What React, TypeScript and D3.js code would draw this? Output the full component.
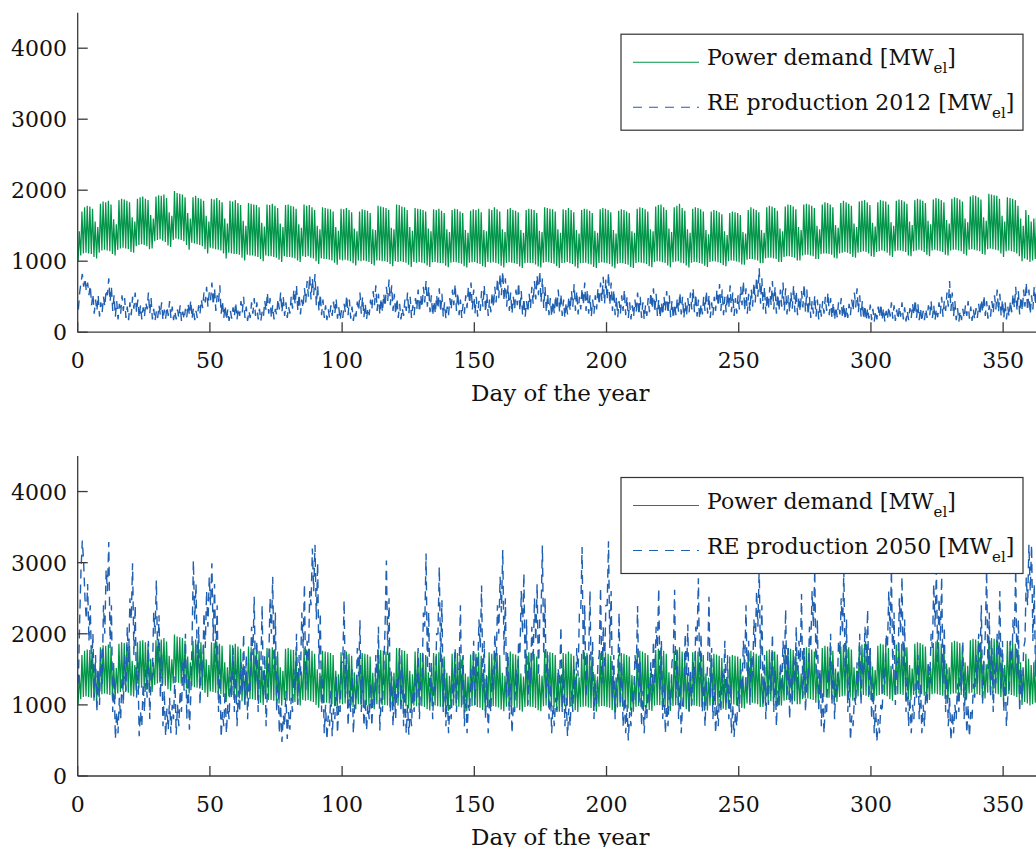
import React from 'react';
import * as d3 from 'd3';

// Axis ticks
const dayTicks = [0, 50, 100, 150, 200, 250, 300, 350];
const mwTicks = [0, 1000, 2000, 3000, 4000];

// Daily maximum of the electric power demand [MW_el], one value per day (day 0 = Sunday)
const demandPeak = [
  1420, 1700, 1760, 1780, 1770, 1740, 1560,
  1480, 1810, 1840, 1830, 1850, 1800, 1590,
  1520, 1860, 1880, 1870, 1850, 1830, 1620,
  1560, 1880, 1900, 1910, 1880, 1860, 1650,
  1600, 1910, 1930, 1920, 1940, 1890, 1690,
  1640, 1990, 1960, 1950, 1940, 1900, 1680,
  1600, 1900, 1920, 1890, 1880, 1850, 1640,
  1560, 1880, 1870, 1890, 1860, 1830, 1600,
  1530, 1850, 1840, 1860, 1820, 1790, 1570,
  1500, 1820, 1810, 1800, 1790, 1760, 1540,
  1490, 1800, 1790, 1810, 1780, 1750, 1530,
  1480, 1790, 1800, 1780, 1770, 1740, 1520,
  1470, 1800, 1780, 1790, 1760, 1720, 1500,
  1450, 1760, 1750, 1740, 1730, 1700, 1480,
  1430, 1740, 1730, 1750, 1720, 1690, 1460,
  1420, 1700, 1730, 1720, 1710, 1680, 1450,
  1440, 1780, 1770, 1760, 1750, 1720, 1470,
  1450, 1800, 1790, 1770, 1760, 1720, 1480,
  1430, 1750, 1740, 1730, 1720, 1700, 1460,
  1420, 1730, 1720, 1740, 1710, 1680, 1450,
  1410, 1720, 1740, 1730, 1700, 1680, 1440,
  1400, 1710, 1730, 1720, 1740, 1690, 1440,
  1420, 1740, 1720, 1760, 1730, 1700, 1450,
  1410, 1730, 1750, 1720, 1710, 1690, 1440,
  1400, 1720, 1740, 1730, 1720, 1680, 1430,
  1410, 1760, 1750, 1740, 1730, 1700, 1450,
  1400, 1730, 1720, 1750, 1720, 1690, 1440,
  1390, 1720, 1740, 1730, 1710, 1680, 1430,
  1400, 1730, 1750, 1740, 1720, 1690, 1440,
  1390, 1710, 1730, 1720, 1700, 1680, 1420,
  1400, 1740, 1760, 1750, 1730, 1700, 1450,
  1420, 1770, 1790, 1800, 1760, 1720, 1460,
  1410, 1760, 1780, 1810, 1750, 1710, 1450,
  1400, 1740, 1760, 1750, 1730, 1700, 1440,
  1380, 1700, 1720, 1710, 1690, 1660, 1420,
  1370, 1680, 1700, 1690, 1680, 1650, 1410,
  1390, 1720, 1760, 1740, 1720, 1690, 1440,
  1400, 1760, 1780, 1770, 1750, 1710, 1460,
  1420, 1770, 1800, 1790, 1770, 1730, 1480,
  1440, 1800, 1810, 1800, 1780, 1750, 1500,
  1450, 1800, 1830, 1820, 1800, 1760, 1510,
  1470, 1820, 1850, 1830, 1810, 1780, 1530,
  1480, 1840, 1850, 1860, 1830, 1790, 1540,
  1490, 1830, 1860, 1850, 1840, 1800, 1550,
  1500, 1850, 1870, 1860, 1840, 1810, 1560,
  1510, 1860, 1880, 1870, 1850, 1820, 1570,
  1520, 1870, 1890, 1880, 1860, 1830, 1580,
  1530, 1880, 1900, 1890, 1870, 1840, 1600,
  1550, 1910, 1930, 1920, 1900, 1870, 1620,
  1570, 1950, 1940, 1930, 1920, 1880, 1640,
  1560, 1900, 1890, 1880, 1860, 1780, 1600,
  1500, 1720, 1650, 1560, 1600, 1620, 1500,
  1480,
];

// Daily minimum of the electric power demand [MW_el]
const demandTrough = [
  1000, 1080, 1110, 1120, 1110, 1100, 1060,
  1040, 1120, 1150, 1160, 1150, 1140, 1100,
  1080, 1160, 1180, 1190, 1180, 1170, 1130,
  1120, 1210, 1230, 1240, 1230, 1210, 1170,
  1180, 1280, 1300, 1310, 1290, 1270, 1220,
  1200, 1300, 1320, 1310, 1300, 1280, 1230,
  1160, 1260, 1250, 1240, 1230, 1210, 1170,
  1110, 1190, 1180, 1170, 1160, 1150, 1110,
  1040, 1120, 1110, 1100, 1100, 1090, 1050,
  1010, 1090, 1080, 1080, 1070, 1060, 1030,
  1000, 1080, 1070, 1070, 1060, 1050, 1020,
  990, 1070, 1060, 1060, 1050, 1040, 1010,
  990, 1070, 1060, 1070, 1050, 1040, 1000,
  960, 1040, 1030, 1030, 1020, 1010, 980,
  950, 1020, 1010, 1020, 1010, 1000, 970,
  940, 1010, 1000, 1010, 1000, 990, 960,
  940, 1010, 1010, 1000, 1000, 990, 960,
  930, 1000, 990, 1000, 990, 980, 950,
  920, 990, 980, 990, 980, 970, 940,
  920, 985, 990, 980, 975, 970, 935,
  915, 980, 990, 985, 975, 965, 930,
  910, 980, 985, 990, 970, 960, 930,
  915, 990, 980, 985, 975, 965, 935,
  910, 975, 985, 980, 970, 960, 925,
  905, 970, 980, 975, 970, 955, 925,
  910, 980, 990, 985, 975, 965, 930,
  905, 975, 980, 990, 970, 960, 925,
  900, 970, 975, 980, 965, 955, 920,
  905, 975, 985, 980, 970, 960, 925,
  900, 965, 975, 970, 960, 950, 920,
  905, 975, 985, 980, 970, 960, 930,
  915, 990, 1000, 995, 985, 975, 940,
  915, 985, 995, 1000, 980, 970, 940,
  910, 980, 990, 985, 975, 965, 935,
  920, 990, 1000, 995, 985, 975, 945,
  930, 1000, 1010, 1005, 995, 985, 955,
  950, 1020, 1030, 1030, 1020, 1010, 970,
  970, 1040, 1050, 1050, 1040, 1030, 990,
  990, 1060, 1070, 1070, 1060, 1050, 1010,
  1010, 1080, 1090, 1090, 1080, 1070, 1030,
  1030, 1100, 1110, 1110, 1100, 1090, 1050,
  1040, 1110, 1120, 1130, 1120, 1100, 1060,
  1050, 1120, 1130, 1140, 1130, 1110, 1070,
  1060, 1130, 1140, 1150, 1140, 1120, 1080,
  1060, 1140, 1150, 1150, 1140, 1130, 1080,
  1070, 1140, 1150, 1160, 1150, 1130, 1090,
  1070, 1150, 1160, 1150, 1140, 1130, 1090,
  1080, 1150, 1160, 1160, 1150, 1140, 1100,
  1080, 1160, 1170, 1160, 1150, 1140, 1100,
  1090, 1170, 1180, 1170, 1160, 1150, 1110,
  1060, 1140, 1150, 1140, 1130, 1110, 1070,
  1000, 1040, 1020, 990, 1010, 1030, 1000,
  990,
];

// Renewable electricity production 2012 [MW_el], two values per day (morning, evening)
const re2012 = [
  320, 560, 700, 820, 640, 760, 580, 700, 520, 660, 380, 540, 260, 460, 300, 520, 220, 420, 280, 500,
  360, 600, 520, 760, 430, 640, 300, 520, 220, 440, 180, 400, 260, 520, 300, 480, 200, 360, 170, 420,
  240, 500, 330, 560, 280, 460, 200, 380, 180, 350, 220, 420, 320, 560, 260, 480, 180, 330, 160, 300,
  200, 380, 240, 420, 170, 320, 190, 360, 230, 440, 200, 360, 170, 300, 180, 320, 200, 380, 160, 290,
  180, 330, 210, 400, 240, 450, 190, 340, 170, 300, 200, 380, 260, 460, 340, 560, 420, 640, 360, 560,
  450, 700, 380, 620, 300, 520, 420, 660, 260, 440, 200, 380, 170, 320, 160, 300, 190, 350, 220, 420,
  180, 340, 230, 440, 280, 500, 200, 360, 160, 300, 200, 420, 260, 480, 230, 420, 180, 330, 160, 290,
  220, 440, 300, 560, 260, 480, 200, 380, 180, 330, 240, 470, 320, 560, 280, 500, 230, 420, 200, 360,
  260, 500, 330, 600, 390, 660, 300, 540, 250, 460, 340, 620, 420, 720, 500, 800, 460, 760, 520, 820,
  380, 660, 300, 540, 240, 460, 200, 380, 170, 320, 200, 380, 230, 430, 260, 470, 190, 350, 170, 310,
  200, 400, 280, 520, 240, 460, 190, 360, 160, 300, 220, 430, 300, 560, 260, 500, 210, 400, 180, 340,
  240, 460, 320, 580, 380, 660, 300, 540, 250, 480, 280, 540, 360, 640, 440, 740, 380, 660, 300, 540,
  250, 480, 200, 400, 180, 340, 230, 460, 300, 560, 260, 500, 200, 380, 240, 480, 320, 600, 280, 520,
  350, 640, 420, 720, 360, 640, 280, 520, 230, 440, 260, 520, 330, 620, 280, 540, 220, 420, 190, 360,
  240, 480, 320, 600, 380, 680, 300, 560, 240, 460, 200, 400, 260, 520, 340, 640, 400, 700, 320, 600,
  260, 500, 220, 440, 300, 580, 360, 660, 280, 540, 230, 460, 280, 560, 350, 640, 420, 760, 480, 820,
  520, 860, 440, 760, 360, 660, 300, 560, 260, 500, 320, 600, 380, 700, 300, 580, 240, 480, 220, 440,
  280, 540, 340, 640, 400, 720, 460, 800, 520, 860, 420, 760, 340, 640, 280, 540, 240, 480, 220, 440,
  260, 520, 320, 600, 280, 540, 230, 460, 200, 420, 250, 500, 300, 580, 360, 680, 300, 580, 250, 500,
  320, 620, 380, 700, 300, 600, 260, 520, 220, 460, 260, 520, 320, 620, 380, 700, 440, 780, 400, 740,
  460, 840, 380, 700, 300, 600, 240, 500, 210, 440, 260, 520, 300, 600, 240, 500, 200, 420, 180, 380,
  220, 460, 280, 560, 240, 500, 200, 420, 180, 380, 230, 480, 280, 560, 330, 620, 280, 540, 230, 460,
  200, 420, 240, 500, 300, 580, 260, 520, 210, 440, 190, 400, 240, 480, 290, 560, 250, 500, 200, 420,
  230, 480, 280, 560, 320, 620, 280, 540, 220, 460, 190, 400, 250, 500, 300, 580, 260, 520, 200, 420,
  240, 500, 300, 600, 360, 680, 300, 600, 240, 500, 280, 560, 340, 660, 280, 560, 230, 480, 260, 520,
  320, 640, 380, 720, 300, 620, 260, 540, 300, 600, 360, 700, 420, 780, 500, 900, 400, 760, 320, 640,
  260, 540, 320, 640, 380, 720, 320, 640, 260, 540, 300, 600, 360, 700, 300, 620, 250, 520, 280, 560,
  330, 660, 280, 580, 240, 500, 290, 580, 350, 680, 290, 600, 240, 500, 200, 440, 260, 520, 220, 460,
  180, 400, 220, 440, 260, 500, 300, 560, 240, 480, 200, 420, 170, 360, 210, 420, 250, 480, 200, 400,
  170, 350, 200, 400, 240, 460, 300, 560, 350, 620, 280, 520, 220, 440, 180, 380, 160, 340, 190, 390,
  170, 330, 150, 300, 180, 360, 210, 400, 170, 340, 150, 300, 180, 360, 220, 420, 190, 380, 160, 320,
  180, 360, 220, 420, 180, 350, 150, 300, 170, 340, 200, 400, 240, 460, 200, 400, 170, 340, 150, 300,
  170, 330, 200, 380, 240, 440, 200, 380, 170, 330, 210, 420, 260, 500, 220, 440, 300, 560, 360, 720,
  300, 560, 220, 440, 170, 340, 150, 300, 170, 330, 200, 380, 230, 440, 190, 360, 160, 320, 180, 340,
  200, 400, 240, 460, 280, 520, 230, 440, 190, 380, 220, 440, 270, 520, 320, 600, 280, 540, 230, 460,
  200, 420, 180, 360, 220, 440, 280, 540, 340, 640, 300, 580, 250, 500, 300, 600, 360, 700, 300, 600,
  250, 520, 320, 640, 380, 720, 320, 640, 280, 560,
];

// Renewable electricity production 2050 scenario [MW_el], two values per day
const re2050 = [
  1300, 2200, 2900, 3310, 3000, 2500, 2200, 2700, 1900, 2400, 1500, 2000, 1100, 1700, 900, 1500, 1000, 1800, 1300, 2400,
  2000, 2900, 2600, 3290, 1800, 2400, 900, 1400, 520, 900, 600, 1100, 800, 1400, 1000, 1700, 1200, 2100, 1600, 2500,
  2200, 2990, 1700, 2400, 1100, 1600, 560, 900, 700, 1300, 900, 1500, 1100, 1900, 800, 1400, 1400, 2300, 2000, 2750,
  1600, 2260, 1100, 1700, 700, 1200, 560, 950, 650, 1100, 600, 1000, 800, 1400, 580, 1000, 700, 1200, 900, 1600,
  1200, 2000, 800, 1400, 650, 1100, 1900, 3030, 2200, 2700, 1500, 2100, 1000, 1600, 1400, 2300, 1800, 2600, 2100, 2800,
  2400, 2990, 1900, 2700, 1600, 2400, 900, 1500, 540, 900, 700, 1200, 600, 1000, 800, 1400, 1100, 1800, 900, 1500,
  700, 1200, 900, 1600, 1200, 2000, 1000, 1700, 800, 1300, 1200, 2100, 1700, 2520, 1300, 1900, 900, 1500, 1500, 2400,
  1100, 1700, 700, 1200, 1600, 2500, 2000, 2800, 1500, 2300, 900, 1400, 600, 1000, 480, 850, 700, 1200, 520, 900,
  650, 1100, 900, 1500, 1200, 2000, 1000, 1700, 1400, 2300, 1800, 2700, 1200, 1900, 1600, 2600, 2400, 3200, 2600, 3250,
  2200, 3000, 1500, 2300, 900, 1400, 600, 1000, 510, 850, 700, 1200, 560, 950, 800, 1400, 600, 1000, 900, 1600,
  1600, 2470, 1100, 1700, 700, 1200, 900, 1500, 600, 1000, 1100, 1800, 1400, 2190, 900, 1400, 700, 1100, 640, 1000,
  800, 1300, 700, 1200, 1000, 1700, 1300, 2100, 640, 1100, 900, 1500, 2100, 3030, 1700, 2500, 900, 1400, 700, 1200,
  800, 1400, 1100, 1800, 900, 1500, 700, 1200, 600, 1000, 580, 950, 700, 1200, 900, 1500, 1100, 1800, 800, 1400,
  1400, 2300, 2100, 3130, 1500, 2300, 1000, 1600, 800, 1300, 1200, 2000, 2000, 2940, 1600, 2470, 900, 1500, 700, 1200,
  600, 1000, 800, 1300, 1100, 1800, 900, 1500, 1500, 2400, 1000, 1700, 700, 1200, 600, 1000, 900, 1500, 1200, 1900,
  1000, 1700, 1400, 2200, 1800, 2680, 1200, 1900, 800, 1400, 600, 1100, 900, 1500, 1200, 2000, 1500, 2400, 2000, 2800,
  2300, 3180, 1700, 2500, 1100, 1700, 800, 1300, 600, 1000, 900, 1500, 1200, 1900, 1700, 2600, 2000, 2850, 1400, 2200,
  1000, 1600, 1300, 2100, 1600, 2500, 1900, 2700, 1400, 2200, 2300, 3240, 1700, 2500, 1100, 1700, 800, 1300, 600, 1000,
  700, 1100, 900, 1500, 1300, 2100, 900, 1500, 700, 1100, 560, 950, 700, 1200, 900, 1500, 1100, 1800, 1400, 2300,
  2300, 3220, 1600, 2400, 1100, 1700, 1700, 2600, 1200, 1900, 800, 1300, 1000, 1600, 1700, 2650, 1300, 2100, 1500, 2400,
  2400, 3300, 1800, 2600, 1100, 1700, 800, 1300, 1400, 2300, 1000, 1600, 700, 1100, 600, 1000, 500, 900, 700, 1200,
  1000, 1700, 1500, 2390, 1000, 1600, 700, 1200, 600, 1000, 800, 1300, 1000, 1600, 1200, 1900, 1300, 2100, 1800, 2640,
  1200, 1900, 800, 1300, 600, 1000, 700, 1200, 1000, 1600, 1700, 2620, 1100, 1800, 800, 1300, 600, 1000, 1200, 2000,
  1400, 2130, 900, 1500, 1000, 1600, 1300, 2100, 1900, 2780, 1300, 2000, 900, 1400, 700, 1200, 1600, 2520, 1100, 1800,
  800, 1300, 600, 1000, 700, 1200, 900, 1500, 1200, 1900, 1000, 1700, 800, 1300, 600, 1000, 550, 900, 700, 1200,
  900, 1500, 1200, 1900, 1500, 2400, 1200, 1900, 1000, 1700, 1400, 2200, 1800, 2600, 2100, 2950, 1500, 2400, 1000, 1700,
  800, 1300, 1000, 1600, 1200, 2000, 900, 1500, 700, 1200, 1000, 1600, 1200, 1900, 1500, 2340, 1100, 1800, 800, 1400,
  1000, 1700, 1300, 2100, 1200, 1900, 1600, 2560, 1100, 1800, 900, 1400, 1300, 2100, 1800, 2600, 2100, 2900, 1400, 2200,
  900, 1500, 700, 1200, 600, 1000, 900, 1500, 1300, 2000, 1000, 1600, 800, 1300, 1200, 1900, 1700, 2500, 2000, 2900,
  1400, 2200, 900, 1400, 500, 850, 700, 1100, 1000, 1600, 1300, 2000, 1000, 1600, 1400, 2100, 1600, 2340, 1100, 1800,
  800, 1300, 600, 1000, 480, 800, 600, 1000, 900, 1500, 1300, 2000, 1800, 2600, 2000, 2900, 1500, 2300, 1000, 1600,
  1600, 2500, 2000, 2800, 1400, 2200, 900, 1400, 700, 1100, 600, 1000, 800, 1300, 1100, 1700, 800, 1300, 600, 1000,
  700, 1200, 1000, 1600, 1300, 2000, 1800, 2700, 2100, 2900, 1600, 2500, 1900, 2800, 1300, 2100, 900, 1500, 700, 1100,
  500, 900, 600, 1000, 800, 1300, 900, 1500, 1200, 1900, 800, 1300, 600, 1000, 550, 900, 800, 1300, 1100, 1700,
  1300, 2000, 1600, 2400, 1000, 1600, 2000, 2900, 1500, 2300, 1100, 1800, 900, 1500, 1300, 2000, 1700, 2600, 1200, 1900,
  900, 1400, 700, 1100, 1200, 1900, 1500, 2200, 2000, 2900, 1400, 2200, 900, 1500, 1100, 1800, 1900, 2800, 2400, 3250,
  2600, 3250, 1900, 2700, 1400, 2200, 2200, 3100, 1800, 2600,
];

const legendDemand = 'Power demand';
const legendRe = ['RE production 2012', 'RE production 2050'];
const axisLabel = 'Day of the year';

const W = 1036;
const H = 847;
const X0 = 77.7;
const X1 = 1042.8;
const GREEN = '#009548';
const BLUE = '#1f60b2';
const AXIS = '#3a3a3a';
const FONT = "'DejaVu Serif', serif";

type Pt = { t: number; v: number };

const demandSeries: Pt[] = demandPeak.flatMap((pk, d) => [
  { t: d + 0.15, v: demandTrough[d] },
  { t: d + 0.6, v: pk },
]);

const toHalfDaily = (arr: number[]): Pt[] => arr.map((v, i) => ({ t: i / 2 + 0.25, v }));

const panels = [
  { top: 12.7, bottom: 332.2, re: toHalfDaily(re2012), reLabel: legendRe[0] },
  { top: 456, bottom: 776, re: toHalfDaily(re2050), reLabel: legendRe[1] },
];

const x = d3.scaleLinear().domain([0, 365]).range([X0, X1]);

function MwLabel({ x: tx, y: ty, text }: { x: number; y: number; text: string }) {
  return (
    <text x={tx} y={ty} fontSize={22} fill="#111">
      {text} [MW
      <tspan dy={8} fontSize={15}>el</tspan>
      <tspan dy={-8} fontSize={22}>]</tspan>
    </text>
  );
}

function Panel({ top, bottom, re, reLabel }: { top: number; bottom: number; re: Pt[]; reLabel: string }) {
  const y = d3.scaleLinear().domain([0, 4500]).range([bottom, top]);
  const line = d3
    .line<Pt>()
    .x((p) => x(p.t))
    .y((p) => y(p.v));
  const lx = 621;
  const ly = top + 21.5;
  return (
    <g>
      <path d={line(demandSeries) || ''} fill="none" stroke={GREEN} strokeWidth={1.25} />
      <path d={line(re) || ''} fill="none" stroke={BLUE} strokeWidth={1.4} strokeDasharray="9,6" />

      {/* axes */}
      <line x1={X0} x2={X0} y1={top} y2={bottom} stroke={AXIS} strokeWidth={1.3} />
      <line x1={X0} x2={X1} y1={bottom} y2={bottom} stroke={AXIS} strokeWidth={1.3} />
      {mwTicks.map((t) => (
        <g key={'y' + t}>
          <line x1={X0} x2={X0 + 10} y1={y(t)} y2={y(t)} stroke={AXIS} strokeWidth={1.3} />
          <text x={67} y={y(t) + 8} textAnchor="end" fontSize={22} fill="#111">
            {t}
          </text>
        </g>
      ))}
      {dayTicks.map((t) => (
        <g key={'x' + t}>
          <line x1={x(t)} x2={x(t)} y1={bottom} y2={bottom - 10} stroke={AXIS} strokeWidth={1.3} />
          <text x={x(t)} y={bottom + 36} textAnchor="middle" fontSize={22} fill="#111">
            {t}
          </text>
        </g>
      ))}
      <text x={(X0 + X1) / 2} y={bottom + 69} textAnchor="middle" fontSize={23} fill="#111">
        {axisLabel}
      </text>

      {/* legend */}
      <rect x={lx} y={ly} width={402} height={96} fill="#fff" stroke="#333" strokeWidth={1.2} />
      <line x1={lx + 12} x2={lx + 78} y1={ly + 28} y2={ly + 28} stroke={GREEN} strokeWidth={1.1} />
      <MwLabel x={lx + 86} y={ly + 31} text={legendDemand} />
      <line x1={lx + 12} x2={lx + 78} y1={ly + 73} y2={ly + 73} stroke={BLUE} strokeWidth={1.1} strokeDasharray="9,7" />
      <MwLabel x={lx + 86} y={ly + 76} text={reLabel} />
    </g>
  );
}

export default function App() {
  return (
    <svg
      width={W}
      height={H}
      style={{ position: 'absolute', left: 0, top: 0, background: '#fff' }}
      fontFamily={FONT}
    >
      <rect x={0} y={0} width={W} height={H} fill="#fff" />
      {panels.map((p, i) => (
        <Panel key={i} top={p.top} bottom={p.bottom} re={p.re} reLabel={p.reLabel} />
      ))}
    </svg>
  );
}
